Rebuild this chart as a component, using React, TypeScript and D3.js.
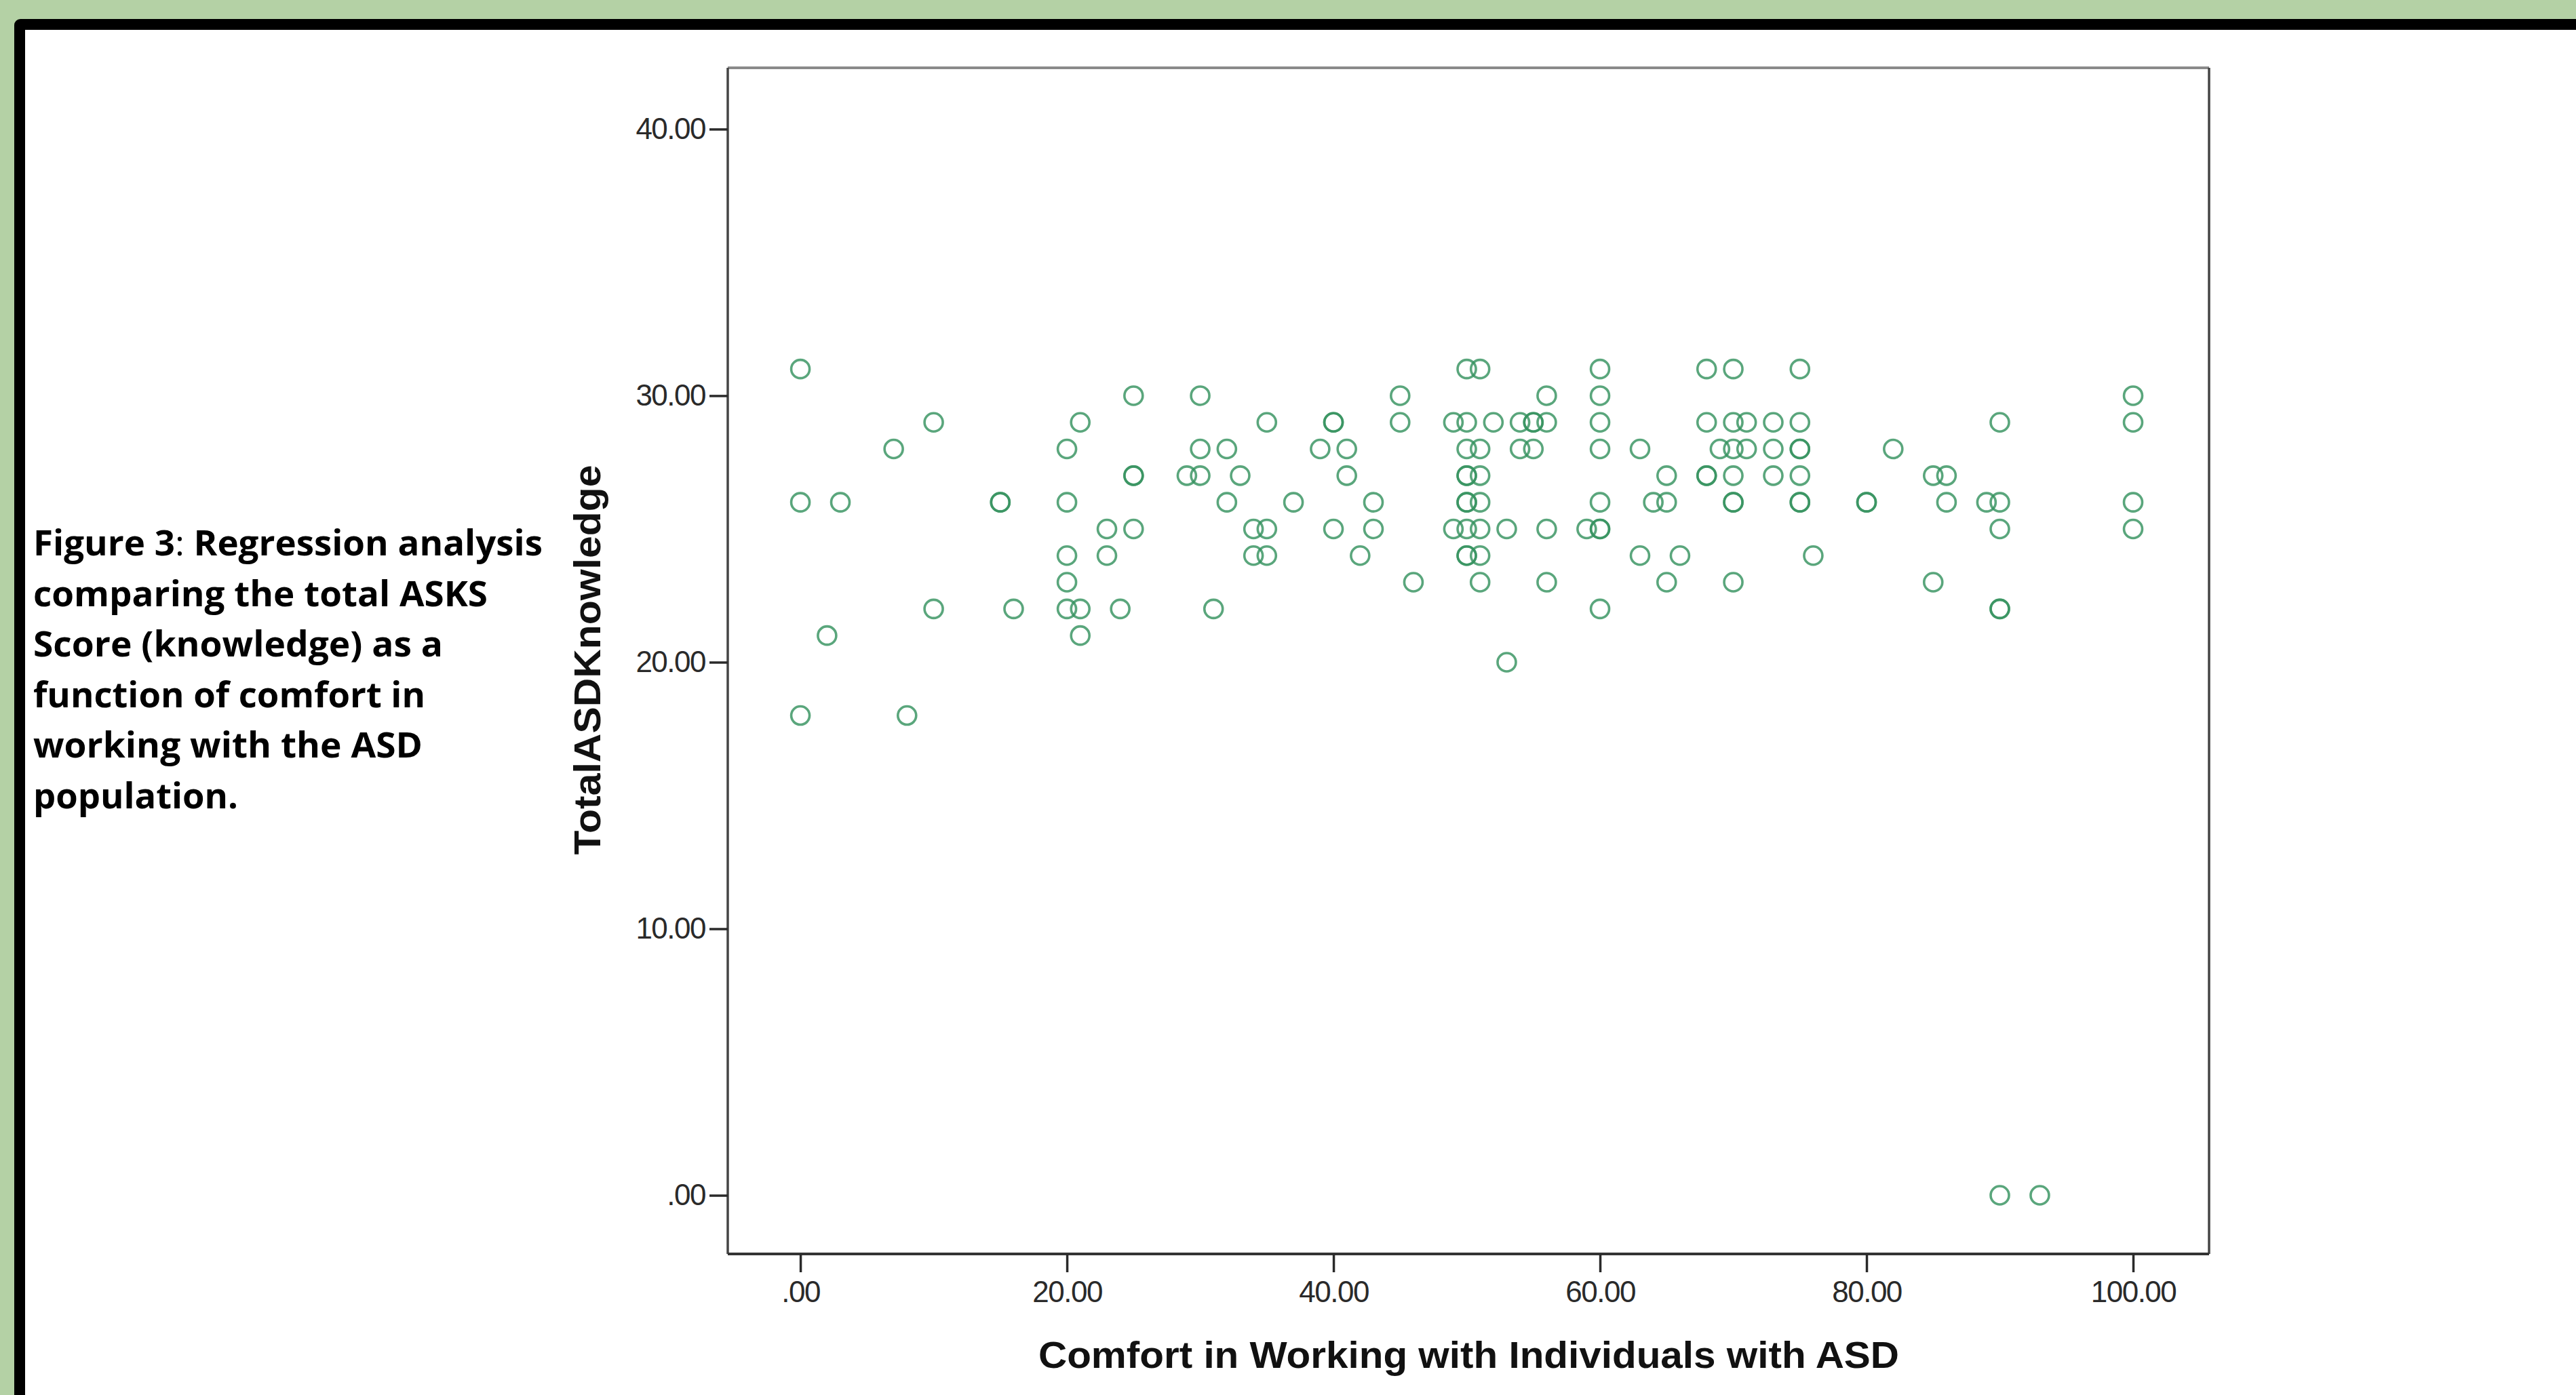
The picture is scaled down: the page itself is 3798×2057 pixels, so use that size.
import React, { useEffect, useRef } from 'react';
import * as d3 from 'd3';

// Comfort in working with individuals with ASD (x), one entry per respondent
const comfort = [
  0, 0, 0, 2, 3, 7, 8, 10, 10,
  15, 15, 16, 20, 20, 20, 20, 20, 21, 21, 21,
  23, 23, 24, 25, 25, 25, 25,
  29, 30, 30, 30, 31, 32, 32, 33,
  34, 34, 35, 35, 35, 37, 39, 40, 40, 40,
  41, 41, 42, 43, 43, 45, 45, 46, 49, 49,
  50, 50, 50, 50, 50, 50, 50, 50, 50, 50,
  51, 51, 51, 51, 51, 51, 51, 52, 53, 53,
  54, 54, 55, 55, 55, 56, 56, 56, 56, 59,
  60, 60, 60, 60, 60, 60, 60, 60,
  63, 63, 64, 65, 65, 65, 66,
  68, 68, 68, 68, 69,
  70, 70, 70, 70, 70, 70, 70, 71, 71, 73, 73, 73,
  75, 75, 75, 75, 75, 75, 75, 76,
  80, 80, 82, 85, 85, 86, 86, 89,
  90, 90, 90, 90, 90, 90, 93,
  100, 100, 100, 100,
];

// Total ASD knowledge score (y), same order as comfort
const knowledge = [
  31, 26, 18, 21, 26, 28, 18, 29, 22,
  26, 26, 22, 28, 26, 24, 23, 22, 29, 22, 21,
  25, 24, 22, 30, 27, 27, 25,
  27, 30, 28, 27, 22, 28, 26, 27,
  25, 24, 29, 25, 24, 26, 28, 29, 29, 25,
  28, 27, 24, 26, 25, 30, 29, 23, 29, 25,
  31, 29, 28, 27, 27, 26, 26, 25, 24, 24,
  31, 28, 27, 26, 25, 24, 23, 29, 25, 20,
  29, 28, 29, 29, 28, 30, 29, 25, 23, 25,
  31, 30, 29, 28, 26, 25, 25, 22,
  28, 24, 26, 27, 26, 23, 24,
  31, 29, 27, 27, 28,
  31, 29, 28, 27, 26, 26, 23, 29, 28, 29, 28, 27,
  31, 29, 28, 28, 27, 26, 26, 24,
  26, 26, 28, 27, 23, 27, 26, 26,
  29, 26, 25, 22, 22, 0, 0,
  30, 29, 26, 25,
];

const xTicks = [0, 20, 40, 60, 80, 100];
const yTicks = [0, 10, 20, 30, 40];

const xTitle = 'Comfort in Working with Individuals with ASD';
const yTitle = 'TotalASDKnowledge';

const captionLines = [
  'comparing the total ASKS',
  'Score (knowledge) as a',
  'function of comfort in',
  'working with the ASD',
  'population.',
];
const captionWidths = [670, 604, 578, 574, 302];

const W = 3798;
const H = 2057;
const plot = { left: 1073, right: 3257, top: 100, bottom: 1849 };

const tickFont = "'Liberation Sans', Arial, sans-serif";
const captionFont = "'Liberation Sans Narrow', 'Open Sans', sans-serif";

const App = () => {
  const xAxisRef = useRef<SVGGElement>(null);
  const yAxisRef = useRef<SVGGElement>(null);

  const x = d3.scaleLinear().domain([-5.45, 105.7]).range([plot.left, plot.right]);
  const y = d3.scaleLinear().domain([-2.2, 42.3]).range([plot.bottom, plot.top]);

  // SPSS style labels: ".00", "20.00"
  const fmt = (v: number) => d3.format('.2f')(v).replace(/^0\./, '.');

  useEffect(() => {
    const gx = d3.select(xAxisRef.current);
    gx.call(d3.axisBottom(x).tickValues(xTicks).tickFormat(fmt as any).tickSize(27).tickPadding(13));
    gx.select('.domain').remove();
    gx.attr('font-family', tickFont).attr('font-size', 44).attr('color', '#2a2a2a');
    gx.selectAll('line').attr('stroke-width', 3.5);
    gx.selectAll('text').attr('letter-spacing', -1.5);

    const gy = d3.select(yAxisRef.current);
    gy.call(d3.axisLeft(y).tickValues(yTicks).tickFormat(fmt as any).tickSize(27).tickPadding(6));
    gy.select('.domain').remove();
    gy.attr('font-family', tickFont).attr('font-size', 44).attr('color', '#2a2a2a');
    gy.selectAll('line').attr('stroke-width', 3.5);
    gy.selectAll('text').attr('letter-spacing', -1.5);
  }, []);

  const points = comfort.map((c, i) => ({ c, k: knowledge[i] }));

  return (
    <svg
      width={W}
      height={H}
      style={{ position: 'absolute', left: 0, top: 0, display: 'block' }}
    >
      {/* slide background and frame */}
      <rect x={0} y={0} width={W} height={H} fill="#b4d1a5" />
      <rect x={21} y={28} width={W + 40} height={H + 40} rx={9} fill="#000" />
      <rect x={37} y={44} width={W} height={H} fill="#fff" />

      {/* caption */}
      <g fontFamily={captionFont} fontWeight="bold" fontSize={52} fill="#000">
        <text x={49} y={819} textLength={751} lengthAdjust="spacingAndGlyphs">
          Figure 3<tspan fontWeight="normal">:</tspan> Regression analysis
        </text>
        {captionLines.map((line, i) => (
          <text
            key={line}
            x={49}
            y={819 + 74.6 * (i + 1)}
            textLength={captionWidths[i]}
            lengthAdjust="spacingAndGlyphs"
          >
            {line}
          </text>
        ))}
      </g>

      {/* plot frame */}
      <rect
        x={plot.left}
        y={plot.top}
        width={plot.right - plot.left}
        height={plot.bottom - plot.top}
        fill="#fff"
      />
      <line x1={plot.left} x2={plot.right} y1={plot.top} y2={plot.top} stroke="#8a8a8a" strokeWidth={4} />
      <line x1={plot.right} x2={plot.right} y1={plot.top} y2={plot.bottom} stroke="#444" strokeWidth={3.5} />
      <line x1={plot.left} x2={plot.left} y1={plot.top} y2={plot.bottom} stroke="#444" strokeWidth={3.5} />
      <line x1={plot.left} x2={plot.right} y1={plot.bottom} y2={plot.bottom} stroke="#333" strokeWidth={4} />

      <g ref={xAxisRef} transform={`translate(0,${plot.bottom})`} />
      <g ref={yAxisRef} transform={`translate(${plot.left},0)`} />

      {/* scatter points */}
      <g fill="none" stroke="#36925f" strokeWidth={3.6} strokeOpacity={0.82}>
        {points.map((p, i) => (
          <circle key={i} cx={x(p.c)} cy={y(p.k)} r={13.5} />
        ))}
      </g>

      {/* axis titles */}
      <text
        x={(1531 + 2800) / 2}
        y={2017}
        textAnchor="middle"
        fontFamily={tickFont}
        fontWeight="bold"
        fontSize={55}
        fill="#111"
        textLength={1269}
        lengthAdjust="spacingAndGlyphs"
      >
        {xTitle}
      </text>
      <text
        transform="translate(885,973) rotate(-90)"
        textAnchor="middle"
        fontFamily={tickFont}
        fontWeight="bold"
        fontSize={55}
        fill="#111"
        textLength={575}
        lengthAdjust="spacingAndGlyphs"
      >
        {yTitle}
      </text>
    </svg>
  );
};

export default App;
